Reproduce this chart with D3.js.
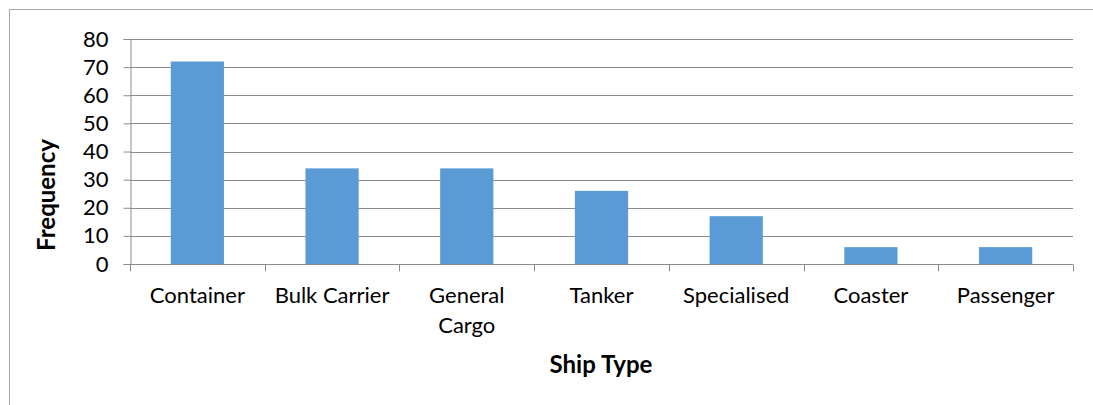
<!DOCTYPE html>
<html>
<head>
<meta charset="utf-8">
<script src="https://cdn.jsdelivr.net/npm/d3@7"></script>
<style>
  body { margin: 0; background: #fff; }
  text { font-family: Lato, "Open Sans", sans-serif; fill: #000; }
</style>
</head>
<body>
<svg id="chart" width="1093" height="405"></svg>
<script>
  let categories = ["Container", "Bulk Carrier", "General Cargo", "Tanker", "Specialised", "Coaster", "Passenger"]
  let frequency = [72, 34, 34, 26, 17, 6, 6]
  let yTicks = [0, 10, 20, 30, 40, 50, 60, 70, 80]

  let svg = d3.select("#chart")

  // outer chart border (only top and left visible in the crop)
  svg.append("rect")
      .attr("x", 9.5).attr("y", 9.5)
      .attr("width", 1200).attr("height", 500)
      .attr("fill", "none")
      .attr("stroke", "#a6a6a6")

  let plotLeft = 130, plotRight = 1073, plotTop = 39, plotBottom = 264

  let x = d3.scaleBand()
      .domain(categories)
      .range([plotLeft, plotRight])
      .paddingInner(0.605)
      .paddingOuter(0.3025)

  let y = d3.scaleLinear()
      .domain([0, 80])
      .range([plotBottom, plotTop])

  // gridlines
  svg.append("g")
      .selectAll("line")
      .data(yTicks.filter(d => d > 0))
      .enter().append("line")
      .attr("x1", plotLeft).attr("x2", plotRight)
      .attr("y1", d => Math.round(y(d)) + 0.5)
      .attr("y2", d => Math.round(y(d)) + 0.5)
      .attr("stroke", "#8c8c8c")
      .attr("stroke-width", 1)

  // bars
  svg.append("g")
      .selectAll("rect")
      .data(frequency)
      .enter().append("rect")
      .attr("x", (d, i) => x(categories[i]))
      .attr("width", x.bandwidth())
      .attr("y", d => y(d))
      .attr("height", d => y(0) - y(d))
      .attr("fill", "#5b9bd5")

  // y axis
  let yAxis = svg.append("g")
      .attr("transform", `translate(${plotLeft + 0.5},0)`)
      .call(d3.axisLeft(y).tickValues(yTicks).tickSize(7).tickPadding(15))
  yAxis.select(".domain").attr("stroke", "#8c8c8c")
  yAxis.selectAll(".tick line").attr("stroke", "#8c8c8c")
  yAxis.selectAll(".tick text").attr("font-size", 22).attr("font-family", "Lato").attr("fill", "#000")

  // x axis with ticks at category boundaries
  let xg = svg.append("g").attr("transform", `translate(0,${Math.round(plotBottom) + 0.5})`)
  xg.append("line")
      .attr("x1", plotLeft).attr("x2", plotRight)
      .attr("stroke", "#8c8c8c")
  let step = (plotRight - plotLeft) / categories.length
  xg.selectAll(".bt")
      .data(d3.range(categories.length + 1))
      .enter().append("line")
      .attr("x1", i => Math.round(plotLeft + i * step) + 0.5)
      .attr("x2", i => Math.round(plotLeft + i * step) + 0.5)
      .attr("y1", 0).attr("y2", 7)
      .attr("stroke", "#8c8c8c")

  xg.selectAll(".lbl")
      .data(categories)
      .enter().append("text")
      .attr("text-anchor", "middle")
      .attr("font-size", 22)
      .attr("transform", d => `translate(${x(d) + x.bandwidth() / 2},0)`)
      .each(function (d) {
        let t = d3.select(this)
        let lines = d === "General Cargo" ? ["General", "Cargo"] : [d]
        lines.forEach((l, k) => {
          t.append("tspan").attr("x", 0).attr("y", 38 + k * 30).text(l)
        })
      })

  // axis titles
  svg.append("text")
      .attr("x", 601)
      .attr("y", 373)
      .attr("text-anchor", "middle")
      .attr("font-size", 24)
      .attr("font-weight", "bold")
      .text("Ship Type")

  svg.append("text")
      .attr("transform", "translate(55,195) rotate(-90)")
      .attr("text-anchor", "middle")
      .attr("font-size", 24)
      .attr("font-weight", "bold")
      .text("Frequency")
</script>
</body>
</html>
